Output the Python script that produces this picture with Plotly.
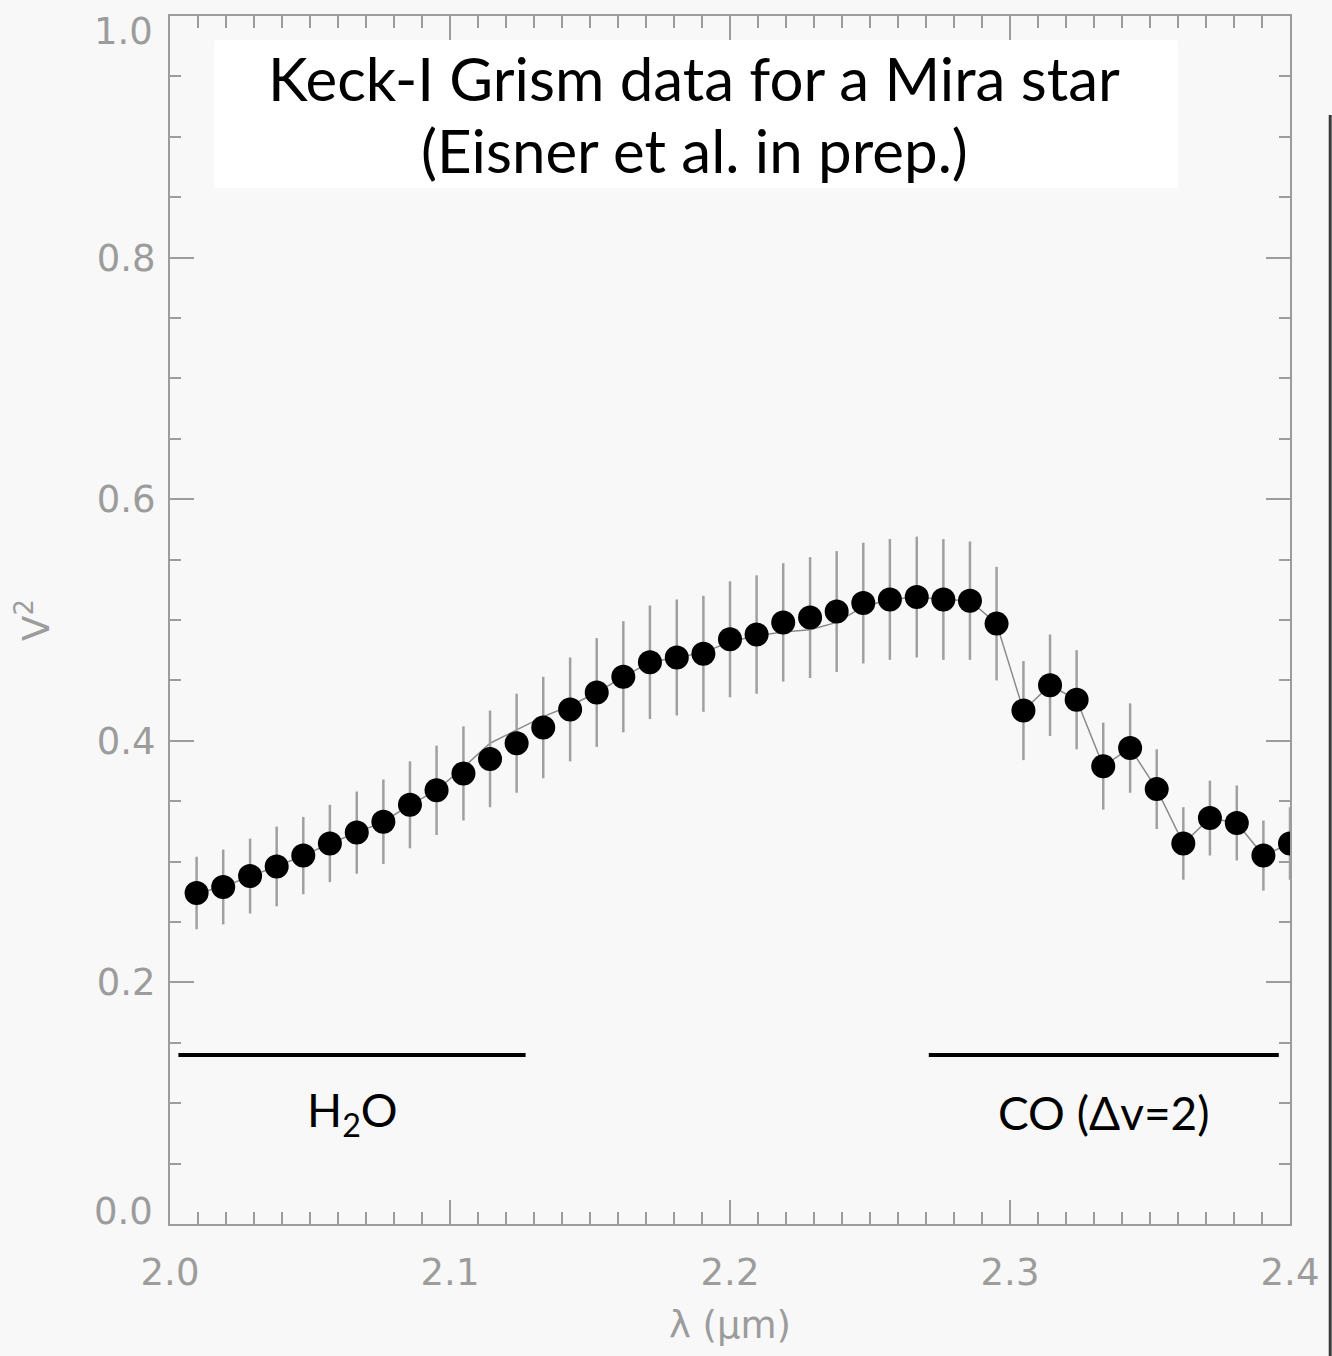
import plotly.graph_objects as go

# Wavelength channels (micron) of the grism spectrum
wavelength = [2.0095, 2.0190, 2.0286, 2.0381, 2.0476, 2.0571, 2.0667, 2.0762, 2.0857, 2.0952,
              2.1048, 2.1143, 2.1238, 2.1333, 2.1429, 2.1524, 2.1619, 2.1714, 2.1810, 2.1905,
              2.2000, 2.2095, 2.2190, 2.2286, 2.2381, 2.2476, 2.2571, 2.2667, 2.2762, 2.2857,
              2.2952, 2.3048, 2.3143, 2.3238, 2.3333, 2.3429, 2.3524, 2.3619, 2.3714, 2.3810,
              2.3905, 2.4000]

# Squared visibilities and their 1-sigma uncertainties
v2 = [0.274, 0.279, 0.288, 0.296, 0.305, 0.315, 0.324, 0.333, 0.347, 0.359,
      0.373, 0.385, 0.398, 0.411, 0.426, 0.440, 0.453, 0.465, 0.469, 0.472,
      0.484, 0.488, 0.498, 0.502, 0.507, 0.514, 0.517, 0.519, 0.517, 0.516,
      0.497, 0.425, 0.446, 0.434, 0.379, 0.394, 0.360, 0.315, 0.336, 0.332,
      0.305, 0.315]
v2_err = [0.030, 0.031, 0.031, 0.033, 0.032, 0.032, 0.034, 0.035, 0.036, 0.037,
          0.039, 0.040, 0.041, 0.042, 0.043, 0.045, 0.046, 0.047, 0.048, 0.048,
          0.048, 0.049, 0.049, 0.050, 0.050, 0.050, 0.050, 0.050, 0.050, 0.049,
          0.047, 0.041, 0.042, 0.041, 0.036, 0.037, 0.033, 0.030, 0.031, 0.031,
          0.029, 0.030]

# Thin comparison curve drawn underneath the points
v2_curve = [0.274, 0.279, 0.288, 0.296, 0.305, 0.315, 0.324, 0.333, 0.347, 0.359,
            0.378, 0.398, 0.409, 0.420, 0.429, 0.440, 0.453, 0.465, 0.469, 0.473,
            0.482, 0.487, 0.490, 0.492, 0.498, 0.511, 0.517, 0.519, 0.517, 0.516,
            0.497, 0.425, 0.446, 0.434, 0.379, 0.394, 0.360, 0.315, 0.336, 0.332,
            0.305, 0.315]

# Molecular absorption bands marked under the data
band_names = ["H<sub>2</sub>O", "CO (Δv=2)"]
band_ranges = [[2.003, 2.127], [2.271, 2.396]]
band_level = 0.14
band_label_level = 0.092

# Axis tick labels
x_ticks = [2.0, 2.1, 2.2, 2.3, 2.4]
x_ticklabels = ["2.0", "2.1", "2.2", "2.3", "2.4"]
y_ticks = [0.2, 0.4, 0.6, 0.8]
y_ticklabels = ["0.2", "0.4", "0.6", "0.8"]
y_end_ticks = [0.0, 1.0]
y_end_ticklabels = ["0.0", "1.0"]

title_lines = ["Keck-I Grism data for a Mira star", "(Eisner et al. in prep.)"]

AXIS_GREY = "#9c9c9c"
BG = "#f8f8f8"
TICK_FONT = dict(family="DejaVu Sans", size=37, color=AXIS_GREY)

fig = go.Figure()

fig.add_trace(go.Scatter(
    x=wavelength, y=v2_curve, mode="lines",
    line=dict(color="#8a8a8a", width=1.5),
    hoverinfo="skip", showlegend=False,
))

fig.add_trace(go.Scatter(
    x=wavelength, y=v2, mode="markers",
    marker=dict(color="black", size=24),
    error_y=dict(type="data", array=v2_err, color="#a0a0a0", thickness=2.5, width=0),
    showlegend=False,
))

for name, (x0, x1) in zip(band_names, band_ranges):
    fig.add_trace(go.Scatter(
        x=[x0, x1], y=[band_level, band_level], mode="lines",
        line=dict(color="black", width=4), hoverinfo="skip", showlegend=False,
    ))
    fig.add_annotation(
        x=(x0 + x1) / 2, y=band_label_level, text=name, showarrow=False,
        font=dict(family="Lato", size=46, color="black"),
    )

# White title panel with two centred lines
fig.add_shape(type="rect", xref="paper", yref="paper",
              x0=0.0393, x1=0.9, y0=0.8576, y1=0.980,
              fillcolor="white", line=dict(width=0), layer="below")
for line_text, y_pos in zip(title_lines, [0.9487, 0.8891]):
    fig.add_annotation(
        xref="paper", yref="paper", x=0.4679, y=y_pos, yanchor="middle",
        text=line_text, showarrow=False,
        font=dict(family="Lato", size=60, color="black"),
    )

# End labels of the V^2 axis sit just inside the frame
for val, lab, shift in zip(y_end_ticks, y_end_ticklabels, [13, -15]):
    fig.add_annotation(
        xref="paper", yref="y", x=0, y=val, xanchor="right", yanchor="middle",
        xshift=-15, yshift=shift, text=lab, showarrow=False, font=TICK_FONT,
    )

axis_common = dict(
    showline=True, linecolor=AXIS_GREY, linewidth=2, mirror="ticks",
    ticks="inside", tickcolor=AXIS_GREY, tickwidth=2,
    showgrid=False, zeroline=False, tickfont=TICK_FONT,
)

fig.update_xaxes(
    range=[2.0, 2.4], tickvals=x_ticks, ticktext=x_ticklabels,
    ticklen=24, ticklabelstandoff=15,
    minor=dict(dtick=0.01, ticks="inside", ticklen=12, tickcolor=AXIS_GREY, tickwidth=2, showgrid=False),
    title=dict(text="λ (μm)", font=TICK_FONT, standoff=19),
    **axis_common,
)
fig.update_yaxes(
    range=[0.0, 1.0], tickvals=y_ticks, ticktext=y_ticklabels,
    ticklen=24, ticklabelstandoff=5,
    minor=dict(dtick=0.05, ticks="inside", ticklen=11, tickcolor=AXIS_GREY, tickwidth=2, showgrid=False),
    title=dict(text="V<sup>2</sup>", font=TICK_FONT, standoff=36),
    **axis_common,
)

# Dark edge strip along the right border
fig.add_shape(type="line", xref="paper", yref="paper",
              x0=1.0359, x1=1.0359, y0=-0.1093, y1=0.918,
              line=dict(color="#3a3a3a", width=3))

fig.update_layout(
    width=1332, height=1356,
    margin=dict(l=170, r=42, t=16, b=132, autoexpand=False),
    paper_bgcolor=BG, plot_bgcolor=BG,
    showlegend=False,
)

fig.write_html("out.html")
